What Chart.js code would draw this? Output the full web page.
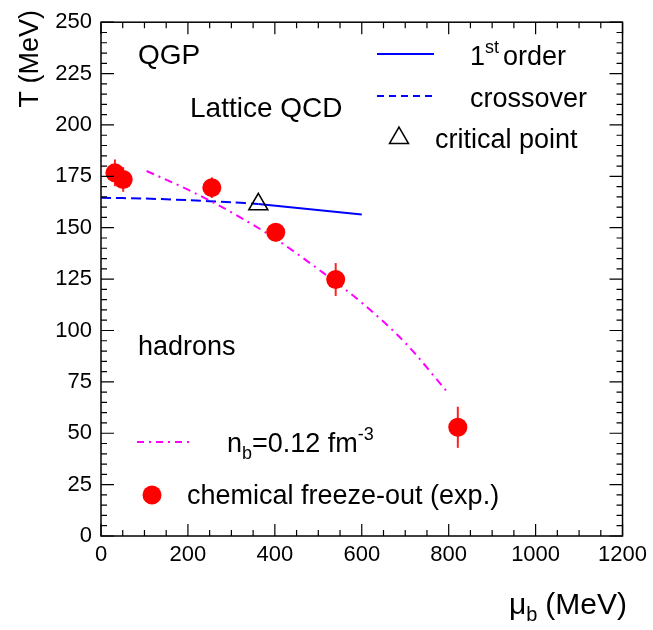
<!DOCTYPE html>
<html>
<head>
<meta charset="utf-8">
<title>QCD phase diagram</title>
<script src="https://cdn.jsdelivr.net/npm/chart.js@4/dist/chart.umd.min.js"></script>
<style>
    html, body { margin: 0; padding: 0; background: #fff; }
    canvas { display: block; }
</style>
</head>
<body>
<canvas id="phase-chart" width="653" height="630"></canvas>
<script>
// --- Data ---
const freezeMu = [32, 51, 255, 402, 540, 821];
const freezeT = [176.7, 173.5, 169.5, 147.8, 124.8, 52.9];
const freezeErr = [6.5, 6, 5, 4.5, 8, 10];

const crossoverMu = [0, 100, 200, 300, 362];
const crossoverT = [164.6, 164.2, 163.4, 162.4, 161.5];

const firstOrderMu = [362, 600];
const firstOrderT = [161.5, 156.4];

const criticalMu = [362];
const criticalT = [161.4];

const densityMu = [105, 200, 300, 400, 500, 600, 700, 795];
const densityT = [177.6, 168.5, 157.5, 144.8, 129.8, 113.5, 94, 70.5];

const xTicks = [0, 200, 400, 600, 800, 1000, 1200];
const yTicks = [0, 25, 50, 75, 100, 125, 150, 175, 200, 225, 250];

// --- Helpers ---
const FONT = '"Liberation Sans", Arial, Helvetica, sans-serif';
const toPoints = (xs, ys) => xs.map((x, i) => ({ x: x, y: ys[i] }));

// draws a run of text pieces, each with its own size and vertical shift
function richText(ctx, x, y, parts) {
    let cx = x;
    parts.forEach(p => {
        ctx.font = p.size + 'px ' + FONT;
        ctx.fillText(p.text, cx, y + (p.dy || 0));
        cx += ctx.measureText(p.text).width + (p.gap || 0);
    });
    return cx - x;
}

function richWidth(ctx, parts) {
    let w = 0;
    parts.forEach(p => {
        ctx.font = p.size + 'px ' + FONT;
        w += ctx.measureText(p.text).width + (p.gap || 0);
    });
    return w;
}

// --- Plugin: error bars behind the markers ---
const errorBars = {
    id: 'errorBars',
    beforeDatasetsDraw(chart) {
        const { ctx, scales } = chart;
        ctx.save();
        ctx.strokeStyle = '#ff2020';
        ctx.lineWidth = 2;
        freezeMu.forEach((mu, i) => {
            const px = scales.x.getPixelForValue(mu);
            ctx.beginPath();
            ctx.moveTo(px, scales.y.getPixelForValue(freezeT[i] - freezeErr[i]));
            ctx.lineTo(px, scales.y.getPixelForValue(freezeT[i] + freezeErr[i]));
            ctx.stroke();
        });
        ctx.restore();
    }
};

// --- Plugin: ROOT-like frame, inner ticks, titles, labels and legend ---
const decorations = {
    id: 'decorations',
    afterDraw(chart) {
        const { ctx, chartArea: a, scales } = chart;
        ctx.save();

        // frame
        ctx.strokeStyle = '#000';
        ctx.lineWidth = 1.5;
        ctx.strokeRect(a.left, a.top, a.right - a.left, a.bottom - a.top);

        // ticks pointing inwards
        ctx.lineWidth = 1.2;
        ctx.beginPath();
        for (let v = 0; v <= 1200; v += 50) {
            const px = scales.x.getPixelForValue(v);
            const len = v % 200 === 0 ? 12 : 6;
            ctx.moveTo(px, a.bottom); ctx.lineTo(px, a.bottom - len);
            ctx.moveTo(px, a.top); ctx.lineTo(px, a.top + len);
        }
        for (let v = 0; v <= 250; v += 5) {
            const py = scales.y.getPixelForValue(v);
            const len = v % 25 === 0 ? 13 : 6;
            ctx.moveTo(a.left, py); ctx.lineTo(a.left + len, py);
            ctx.moveTo(a.right, py); ctx.lineTo(a.right - len, py);
        }
        ctx.stroke();

        ctx.fillStyle = '#000';
        ctx.textBaseline = 'alphabetic';

        // y axis title, rotated and pushed to the top
        ctx.save();
        ctx.translate(38, 10);
        ctx.rotate(-Math.PI / 2);
        ctx.textAlign = 'right';
        ctx.font = '27px ' + FONT;
        ctx.fillText('T (MeV)', 0, 0);
        ctx.restore();

        // x axis title, right aligned
        ctx.textAlign = 'left';
        const xTitle = [
            { text: 'μ', size: 30 },
            { text: 'b', size: 20, dy: 7, gap: 8 },
            { text: '(MeV)', size: 30 }
        ];
        richText(ctx, 627 - richWidth(ctx, xTitle), 614, xTitle);

        // region labels
        ctx.font = '28px ' + FONT;
        ctx.fillText('QGP', 138, 64);
        ctx.fillText('Lattice QCD', 190, 117);
        ctx.font = '27px ' + FONT;
        ctx.fillText('hadrons', 138, 355);

        // legend, upper right
        ctx.strokeStyle = '#0000ff';
        ctx.lineWidth = 2;
        ctx.beginPath(); ctx.moveTo(377, 54); ctx.lineTo(434, 54); ctx.stroke();
        ctx.setLineDash([7, 5]);
        ctx.beginPath(); ctx.moveTo(377, 96); ctx.lineTo(434, 96); ctx.stroke();
        ctx.setLineDash([]);
        ctx.strokeStyle = '#000';
        ctx.fillStyle = 'rgba(0,0,0,0)';
        ctx.lineWidth = 1.5;
        Chart.helpers.drawPoint(ctx, { pointStyle: 'triangle', radius: 11, rotation: 0, borderWidth: 1.5 }, 399, 138);
        ctx.fillStyle = '#000';

        richText(ctx, 470, 65, [
            { text: '1', size: 27 },
            { text: 'st', size: 18, dy: -12, gap: 4 },
            { text: 'order', size: 27 }
        ]);
        ctx.font = '27px ' + FONT;
        ctx.fillText('crossover', 470, 107);
        ctx.fillText('critical point', 435, 148);

        // legend, lower left
        ctx.strokeStyle = '#ff00ff';
        ctx.lineWidth = 2;
        ctx.setLineDash([7, 5, 2, 5]);
        ctx.beginPath(); ctx.moveTo(137, 442); ctx.lineTo(192, 442); ctx.stroke();
        ctx.setLineDash([]);
        richText(ctx, 227, 452, [
            { text: 'n', size: 27 },
            { text: 'b', size: 18, dy: 7 },
            { text: '=0.12 fm', size: 27 },
            { text: '-3', size: 18, dy: -12 }
        ]);

        ctx.fillStyle = '#ff0000';
        ctx.beginPath(); ctx.arc(152, 495, 9.5, 0, Math.PI * 2); ctx.fill();
        ctx.fillStyle = '#000';
        ctx.font = '27px ' + FONT;
        ctx.fillText('chemical freeze-out (exp.)', 187, 504);

        ctx.restore();
    }
};

// --- Chart ---
const tickFont = { family: FONT, size: 22 };

new Chart(document.getElementById('phase-chart').getContext('2d'), {
    type: 'scatter',
    data: {
        datasets: [{
            label: 'n_b = 0.12 fm^-3',
            data: toPoints(densityMu, densityT),
            showLine: true,
            borderColor: '#ff00ff',
            borderWidth: 2,
            borderDash: [8, 5, 2, 5],
            pointRadius: 0,
            cubicInterpolationMode: 'monotone',
            order: 3
        }, {
            label: 'crossover',
            data: toPoints(crossoverMu, crossoverT),
            showLine: true,
            borderColor: '#0000ff',
            borderWidth: 2,
            borderDash: [10, 5],
            pointRadius: 0,
            tension: 0.3,
            order: 4
        }, {
            label: '1st order',
            data: toPoints(firstOrderMu, firstOrderT),
            showLine: true,
            borderColor: '#0000ff',
            borderWidth: 2,
            pointRadius: 0,
            order: 4
        }, {
            label: 'critical point',
            data: toPoints(criticalMu, criticalT),
            pointStyle: 'triangle',
            pointRadius: 11,
            pointBorderWidth: 1.5,
            borderColor: '#000',
            backgroundColor: 'rgba(0,0,0,0)',
            order: 2
        }, {
            label: 'chemical freeze-out (exp.)',
            data: toPoints(freezeMu, freezeT),
            pointRadius: 9.5,
            pointBorderWidth: 0,
            backgroundColor: '#ff0000',
            borderColor: '#ff0000',
            order: 1
        }]
    },
    options: {
        responsive: false,
        animation: false,
        layout: { padding: { top: 11, right: 25, left: 0, bottom: 0 } },
        plugins: {
            legend: { display: false },
            tooltip: { enabled: false }
        },
        scales: {
            x: {
                type: 'linear',
                min: 0,
                max: 1200,
                afterBuildTicks: s => { s.ticks = xTicks.map(v => ({ value: v })); },
                afterFit: s => { s.height = 94; },
                ticks: { font: tickFont, color: '#000', padding: 6, maxRotation: 0, callback: v => String(v) },
                grid: { display: false, drawTicks: false },
                border: { display: false }
            },
            y: {
                type: 'linear',
                min: 0,
                max: 250,
                afterBuildTicks: s => { s.ticks = yTicks.map(v => ({ value: v })); },
                afterFit: s => { s.width = 101; },
                ticks: { font: tickFont, color: '#000', padding: 9, callback: v => String(v) },
                grid: { display: false, drawTicks: false },
                border: { display: false }
            }
        }
    },
    plugins: [errorBars, decorations]
});
</script>
</body>
</html>
